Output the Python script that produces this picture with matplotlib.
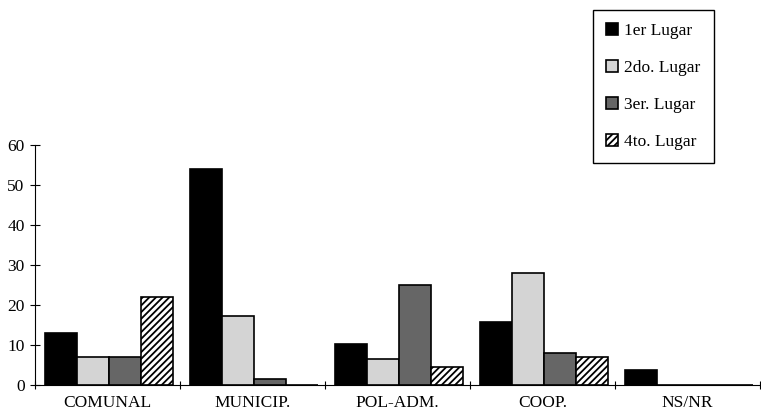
#!/usr/bin/env python3

import matplotlib
matplotlib.use("Agg")
import matplotlib.pyplot as plt
import numpy as np

categories = ["COMUNAL", "MUNICIP.", "POL-ADM.", "COOP.", "NS/NR"]
lugar_1 = [13, 54, 10.3, 15.8, 3.8]
lugar_2 = [7, 17.2, 6.5, 28, 0]
lugar_3 = [7, 1.4, 25, 8, 0]
lugar_4 = [22, 0, 4.6, 7, 0]
labels = ["1er Lugar", "2do. Lugar", "3er. Lugar", "4to. Lugar"]

plt.rcParams["font.family"] = ["Liberation Serif", "DejaVu Serif"]
plt.rcParams["hatch.linewidth"] = 1.3

fig = plt.figure(figsize=(7.61, 4.12), dpi=100)
ax = fig.add_axes([35 / 761, 27 / 412, 725 / 761, 240 / 412])

x = np.arange(len(categories))
w = 0.222
styles = [
    dict(facecolor="black", hatch=None),
    dict(facecolor="#d4d4d4", hatch=None),
    dict(facecolor="#666666", hatch=None),
    dict(facecolor="white", hatch="/////"),
]
series = [lugar_1, lugar_2, lugar_3, lugar_4]
handles = []
for i, (vals, st) in enumerate(zip(series, styles)):
    b = ax.bar(x + 0.01 + (i - 1.5) * w, vals, w, facecolor=st["facecolor"],
               hatch=st["hatch"], edgecolor="black", linewidth=1.2,
               label=labels[i])
    handles.append(b)

ax.set_xlim(-0.5, 4.5)
ax.set_ylim(0, 60)
ax.set_yticks(range(0, 61, 10))
ax.set_xticks(np.arange(-0.5, 4.6, 1.0))
ax.set_xticklabels([])
ax.set_xticks(x, minor=True)
ax.set_xticklabels(categories, minor=True, fontsize=12.5)
ax.tick_params(axis="x", which="minor", length=0, pad=7)
ax.tick_params(axis="x", which="major", direction="inout", length=6)
ax.tick_params(axis="y", direction="inout", length=7, labelsize=12.5, pad=4)
for s in ["top", "right"]:
    ax.spines[s].set_visible(False)

leg = fig.legend(handles=handles, loc="upper left",
                 bbox_to_anchor=(593 / 761, 1 - 10 / 412), borderaxespad=0,
                 fontsize=12.5, handlelength=0.7, handleheight=0.7,
                 handletextpad=0.35, labelspacing=1.2, borderpad=0.75,
                 fancybox=False, edgecolor="black", framealpha=1)
leg.get_frame().set_linewidth(1.0)

fig.savefig("out.png", dpi=100)
